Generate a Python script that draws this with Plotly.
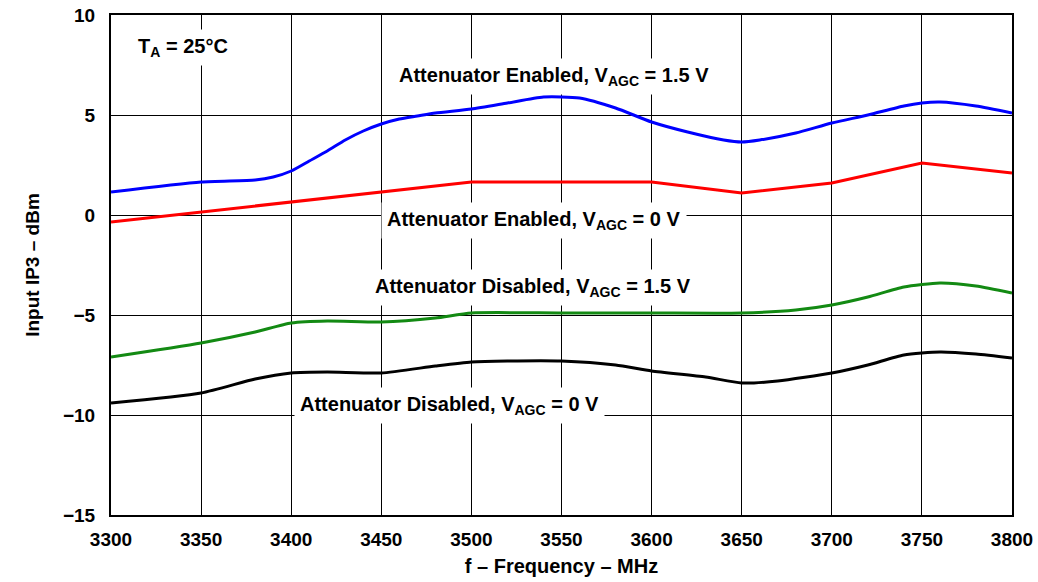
import plotly.graph_objects as go

freq_blue = [3300, 3350, 3380, 3390, 3400, 3410, 3420, 3430, 3440, 3450, 3460, 3470, 3480, 3500, 3520, 3540, 3560, 3580, 3600, 3620, 3640, 3650, 3660, 3680, 3700, 3720, 3740, 3750, 3760, 3780, 3800]
ip3_blue = [1.15, 1.65, 1.75, 1.9, 2.2, 2.7, 3.2, 3.75, 4.2, 4.55, 4.8, 4.95, 5.1, 5.3, 5.6, 5.9, 5.85, 5.35, 4.65, 4.15, 3.75, 3.65, 3.75, 4.1, 4.6, 5.0, 5.45, 5.6, 5.65, 5.45, 5.1]

freq_red = [3300, 3350, 3400, 3450, 3500, 3550, 3600, 3650, 3700, 3750, 3800]
ip3_red = [-0.35, 0.15, 0.65, 1.15, 1.65, 1.65, 1.65, 1.1, 1.6, 2.6, 2.1]

freq_green = [3300, 3350, 3380, 3400, 3420, 3450, 3480, 3500, 3550, 3600, 3650, 3680, 3700, 3720, 3740, 3760, 3780, 3800]
ip3_green = [-7.1, -6.4, -5.85, -5.4, -5.3, -5.35, -5.15, -4.9, -4.9, -4.9, -4.9, -4.75, -4.5, -4.1, -3.6, -3.4, -3.55, -3.9]

freq_black = [3300, 3350, 3380, 3400, 3420, 3450, 3480, 3500, 3520, 3550, 3580, 3600, 3630, 3650, 3670, 3700, 3720, 3740, 3760, 3780, 3800]
ip3_black = [-9.4, -8.9, -8.2, -7.9, -7.85, -7.9, -7.55, -7.35, -7.3, -7.3, -7.5, -7.8, -8.1, -8.4, -8.3, -7.9, -7.5, -7.0, -6.85, -6.95, -7.15]

x_ticks = [3300, 3350, 3400, 3450, 3500, 3550, 3600, 3650, 3700, 3750, 3800]
y_ticks = [-15, -10, -5, 0, 5, 10]
y_tick_text = ["\u221215", "\u221210", "\u22125", "0", "5", "10"]

FONT = "Liberation Sans, Arial, sans-serif"

fig = go.Figure()
fig.add_trace(go.Scatter(x=freq_black, y=ip3_black, mode="lines", line=dict(color="#000000", width=3, shape="spline", smoothing=0.6)))
fig.add_trace(go.Scatter(x=freq_green, y=ip3_green, mode="lines", line=dict(color="#138a13", width=3, shape="spline", smoothing=0.6)))
fig.add_trace(go.Scatter(x=freq_red, y=ip3_red, mode="lines", line=dict(color="#ff0000", width=3)))
fig.add_trace(go.Scatter(x=freq_blue, y=ip3_blue, mode="lines", line=dict(color="#0000ff", width=3, shape="spline", smoothing=0.6)))

annots = [
    (3340, 8.4, "T<sub>A</sub> = 25\u00b0C"),
    (3546, 6.95, "Attenuator Enabled, V<sub>AGC</sub> = 1.5 V"),
    (3535, -0.25, "Attenuator Enabled, V<sub>AGC</sub> = 0 V"),
    (3534, -3.6, "Attenuator Disabled, V<sub>AGC</sub> = 1.5 V"),
    (3488, -9.5, "Attenuator Disabled, V<sub>AGC</sub> = 0 V"),
]
for x, y, t in annots:
    fig.add_annotation(x=x, y=y, text="<b>" + t + "</b>", showarrow=False,
                       font=dict(family=FONT, size=20, color="black"),
                       bgcolor="white", borderpad=5)

fig.update_layout(
    width=1038, height=582,
    margin=dict(l=111, r=26, t=15, b=67, autoexpand=False),
    paper_bgcolor="white", plot_bgcolor="white",
    showlegend=False,
    font=dict(family=FONT, size=19, color="black"),
)
fig.update_xaxes(range=[3300, 3800], tickvals=x_ticks, ticktext=["<b>%d</b>" % v for v in x_ticks],
                 showgrid=True, gridcolor="black", gridwidth=1, zeroline=False,
                 showline=True, linecolor="black", linewidth=2, mirror=True, ticks="",
                 ticklabelstandoff=6, automargin=False,
                 title=dict(text="<b>f \u2013 Frequency \u2013 MHz</b>", standoff=10, font=dict(size=20)))
fig.update_yaxes(range=[-15, 10], tickvals=y_ticks, ticktext=["<b>%s</b>" % t for t in y_tick_text],
                 showgrid=True, gridcolor="black", gridwidth=1, zeroline=False,
                 showline=True, linecolor="black", linewidth=2, mirror=True, ticks="",
                 ticklabelstandoff=10, automargin=False,
                 title=dict(text="<b>Input IP3 \u2013 dBm</b>", standoff=18, font=dict(size=19)))

fig.write_html("out.html", config={"displayModeBar": False},
               post_script="document.body.style.margin='0';document.body.style.overflow='hidden';")
